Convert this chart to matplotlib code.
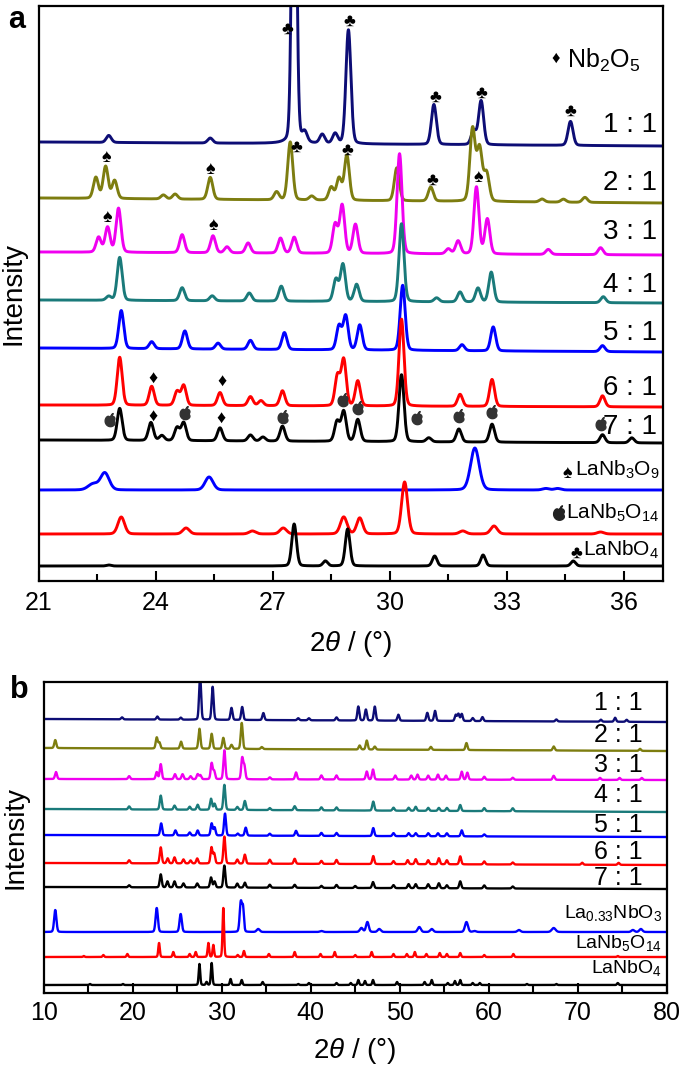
import numpy as np
import matplotlib
matplotlib.use("Agg")
import matplotlib.pyplot as plt
from matplotlib.path import Path
from matplotlib.ticker import MultipleLocator

plt.rcParams['font.family'] = ['Liberation Sans', 'DejaVu Sans']
plt.rcParams['mathtext.fontset'] = 'custom'
plt.rcParams['mathtext.rm'] = 'Liberation Sans'
plt.rcParams['mathtext.it'] = 'Liberation Sans:italic'
plt.rcParams['mathtext.bf'] = 'Liberation Sans:bold'

# ---------------- panel a data: (2theta, height[, hwhm]) per pattern ----------------
a_labels = ["1 : 1", "2 : 1", "3 : 1", "4 : 1", "5 : 1", "6 : 1", "7 : 1"]
a_colors = ["#0d0d75", "#7d7d10", "#f000f0", "#1a7a7a", "#0000ff", "#ff0000", "#000000"]
a_base = [(439, 435), (383, 378), (329, 326), (281, 278), (233, 229), (176, 174), (141, 138)]
a_label_y = [456, 398, 349, 296, 248, 193, 154]

a_11 = [(22.8, 7), (25.4, 5), (27.55, 450, 0.065), (27.82, 10), (28.27, 9), (28.6, 10),
        (28.94, 114), (31.13, 40), (32.15, 14), (32.34, 44), (34.63, 24)]
a_21 = [(22.47, 21), (22.72, 32), (22.95, 18), (24.2, 4), (24.5, 5), (25.4, 22),
        (27.1, 8), (27.45, 58), (28.0, 4), (28.5, 13), (28.7, 22), (28.9, 45),
        (30.18, 33), (31.05, 14), (32.12, 72, 0.08), (32.3, 52, 0.08), (32.48, 28, 0.08),
        (33.9, 3), (34.45, 3), (35.0, 5)]
a_31 = [(22.54, 15), (22.77, 25), (23.05, 44), (24.68, 18), (25.47, 17), (25.83, 6),
        (26.37, 10), (27.2, 15), (27.55, 16), (28.6, 29), (28.78, 48), (29.12, 29),
        (30.25, 100), (31.5, 5), (31.75, 13), (32.22, 67), (32.5, 35), (34.06, 5), (35.4, 7)]
a_41 = [(22.8, 4), (23.08, 43), (24.68, 13), (25.45, 5), (26.4, 8), (27.22, 15),
        (28.62, 22), (28.8, 37), (29.15, 17), (30.3, 78), (31.2, 4), (31.8, 10),
        (32.26, 14), (32.6, 30), (35.47, 6)]
a_51 = [(23.12, 38), (23.9, 7), (24.75, 18), (25.6, 6), (26.43, 9), (27.3, 17),
        (28.7, 24), (28.87, 34), (29.23, 25), (30.33, 65), (31.85, 6), (32.65, 24), (35.45, 6)]
a_61 = [(23.08, 48), (23.9, 19), (24.55, 14), (24.72, 20), (25.65, 13), (26.43, 9),
        (26.7, 5), (27.25, 15), (28.66, 30), (28.82, 46), (29.18, 25), (30.3, 87),
        (31.8, 12), (32.62, 27), (35.45, 11)]
a_71 = [(23.08, 32), (23.88, 18), (24.16, 5), (24.55, 13), (24.72, 18), (25.65, 13),
        (26.43, 6), (26.75, 4), (27.25, 15), (28.65, 20), (28.82, 30), (29.18, 22),
        (30.3, 67), (31.0, 4), (31.77, 13), (32.62, 18), (35.45, 8), (36.2, 5)]
a_samples = [a_11, a_21, a_31, a_41, a_51, a_61, a_71]

a_ref_names = ["LaNb$_3$O$_9$", "LaNb$_5$O$_{14}$", "LaNbO$_4$"]
a_ref_colors = ["#0000ff", "#ff0000", "#000000"]
a_ref_base = [91, 47, 15]
a_ref_label_y = [111, 68, 31]
a_ref_sym = ["spade", "apple", "club"]
ref_lanb3o9 = [(22.4, 6, 0.15), (22.7, 17, 0.13), (25.37, 13, 0.12), (32.18, 42, 0.13),
               (34.0, 1.5, 0.1), (34.3, 1.5, 0.1)]
ref_lanb5o14 = [(23.12, 17, 0.1), (24.78, 6, 0.1), (26.48, 3, 0.1), (27.27, 6, 0.1),
                (28.82, 17, 0.1), (29.23, 16, 0.09), (30.38, 52, 0.09), (31.87, 3, 0.1),
                (32.67, 8, 0.1), (35.4, 2, 0.1)]
ref_lanbo4 = [(22.8, 1), (27.55, 42), (28.35, 5), (28.92, 37), (31.15, 10),
              (32.39, 11), (34.7, 5)]
a_refs = [ref_lanb3o9, ref_lanb5o14, ref_lanbo4]

# phase symbols on panel a (2theta, y)
club_marks = [(27.37, 552), (28.96, 560), (31.17, 484), (32.35, 488), (34.63, 470),
              (27.6, 434), (28.91, 431), (31.09, 401)]
spade_marks = [(22.73, 424), (25.4, 411), (22.76, 364), (25.47, 355), (32.27, 403)]
diamond_marks = [(23.94, 203), (25.71, 200), (23.94, 165), (25.68, 163)]
apple_marks = [(22.83, 161), (24.76, 168), (27.27, 164), (28.81, 181), (29.19, 173),
               (30.7, 163), (31.78, 165), (32.63, 169), (35.4, 157)]

# ---------------- panel b data ----------------
b_base = [(274, 271), (245, 242), (214, 213), (184, 181), (158, 156), (130, 128), (106, 104)]
b_label_y = [290, 258, 228, 198, 168, 141, 115]

b_11 = [(18.8, 2), (22.77, 3), (25.4, 2), (27.57, 45), (28.98, 33), (31.1, 12), (32.3, 13),
        (34.68, 7), (38.6, 2), (39.8, 2), (42.9, 3), (45.35, 14), (46.2, 11), (47.2, 14),
        (49.85, 6), (53.1, 8), (53.97, 10), (56.3, 6), (56.6, 7), (56.97, 7), (58.2, 3),
        (59.3, 4), (67.6, 2), (72.6, 2), (74.2, 4), (75.5, 2)]
b_21 = [(11.3, 8), (22.7, 11), (23.0, 6), (25.43, 7), (27.5, 20), (28.87, 15), (30.18, 11),
        (31.1, 4), (32.25, 26), (34.5, 2), (45.5, 4), (46.3, 9), (47.2, 3), (53.5, 3),
        (57.5, 7), (67.3, 4), (77.0, 2)]
b_31 = [(11.38, 7), (19.6, 3), (22.7, 7), (23.15, 15), (24.75, 5), (25.6, 5), (26.5, 3),
        (27.3, 5), (27.6, 4), (28.87, 16), (29.15, 8), (30.3, 29), (32.3, 21), (32.55, 13),
        (35.4, 2), (38.35, 7), (41.2, 4), (42.9, 4), (46.3, 8), (47.0, 10), (49.5, 4),
        (51.3, 4), (52.0, 5), (53.2, 4), (54.3, 5), (55.2, 4), (56.97, 8), (57.6, 7),
        (59.5, 3), (62.7, 2), (67.3, 4), (72.5, 2), (74.7, 2), (77.2, 2)]
b_41 = [(19.6, 3), (23.15, 14), (24.7, 4), (26.4, 3), (27.3, 5), (28.8, 11), (29.2, 6),
        (30.3, 25), (31.75, 3), (32.6, 9), (35.4, 2), (38.2, 4), (41.2, 3), (42.9, 3),
        (47.03, 9), (49.3, 3), (51.0, 3), (51.8, 4), (53.2, 3), (54.4, 3), (55.3, 3),
        (56.8, 6), (59.5, 3), (62.7, 3)]
b_51 = [(23.2, 12), (24.8, 5), (26.4, 3), (27.3, 5), (28.87, 12), (29.2, 8), (30.37, 22),
        (31.8, 2), (32.7, 8), (35.4, 2), (38.35, 5), (41.2, 3), (42.9, 3), (47.03, 8),
        (49.3, 3), (51.0, 3), (51.8, 3), (53.2, 3), (54.3, 3), (55.3, 3), (56.97, 6), (59.5, 2)]
b_61 = [(19.6, 3), (23.15, 16), (23.93, 5), (24.7, 6), (25.7, 4), (26.5, 3), (27.25, 5),
        (28.85, 16), (29.15, 10), (30.3, 27), (31.75, 4), (32.6, 9), (35.4, 4), (38.2, 5),
        (41.2, 3), (42.9, 4), (47.03, 8), (49.3, 3), (50.9, 4), (51.8, 5), (53.2, 4),
        (54.4, 6), (55.3, 4), (56.8, 8), (59.5, 3), (62.7, 2), (70.5, 2), (74.6, 2)]
b_71 = [(19.6, 2), (23.15, 13), (23.9, 6), (24.7, 6), (25.7, 4), (27.25, 4), (28.8, 10),
        (29.2, 6), (30.3, 22), (31.75, 4), (32.6, 5), (35.4, 3), (38.2, 3), (41.2, 2),
        (42.9, 3), (45.0, 2), (47.0, 6), (49.3, 3), (51.0, 4), (51.8, 4), (53.2, 4),
        (54.4, 5), (55.3, 3), (56.8, 7), (59.5, 3), (62.7, 2)]
b_samples = [b_11, b_21, b_31, b_41, b_51, b_61, b_71]

b_ref_names = ["La$_{0.33}$NbO$_3$", "LaNb$_5$O$_{14}$", "LaNbO$_4$"]
b_ref_base = [61, 36, 8]
b_ref_label_y = [80, 50, 25]
ref_la033 = [(11.3, 22, 0.15), (22.7, 24, 0.15), (25.39, 18, 0.15), (32.15, 30, 0.15),
             (32.4, 22, 0.12), (34.1, 3, 0.2), (41.2, 1, 0.2), (45.7, 4, 0.2),
             (46.37, 10, 0.18), (47.7, 3, 0.2), (52.2, 5, 0.2), (53.6, 3, 0.2),
             (57.5, 10, 0.2), (58.4, 1, 0.2), (63.4, 2, 0.2), (67.3, 4, 0.25),
             (76.2, 2, 0.2), (77.1, 3, 0.2)]
ref_lanb5o14_b = [(14.5, 1), (16.7, 2), (19.4, 3), (22.96, 14), (24.56, 5), (26.4, 3),
                  (27.08, 5), (28.5, 14), (29.06, 12), (30.18, 49), (31.8, 2), (32.5, 6),
                  (35.3, 3), (38.2, 5), (41.1, 3), (42.7, 5), (45.0, 2), (46.85, 5),
                  (49.3, 3), (50.8, 3), (51.7, 5), (53.0, 3), (54.5, 4), (55.3, 3),
                  (56.8, 4), (59.5, 2), (62.77, 3), (74.5, 1)]
ref_lanbo4_b = [(15.2, 1), (18.9, 1), (27.5, 21), (28.3, 3), (28.87, 22), (31.0, 6),
                (32.25, 5), (34.6, 3), (38.6, 1), (39.8, 2), (42.9, 2), (44.5, 2),
                (45.35, 5), (46.1, 4), (47.0, 5), (49.7, 3), (52.8, 3), (53.6, 5),
                (55.4, 2), (56.2, 4), (56.8, 5), (58.2, 2), (59.0, 2), (64.3, 1),
                (67.6, 1), (74.5, 2)]
b_refs = [ref_la033, ref_lanb5o14_b, ref_lanbo4_b]


def pattern(x, peaks, base, hwhm):
    b0, b1 = base if isinstance(base, tuple) else (base, base)
    y = b0 + (b1 - b0) * (x - x[0]) / (x[-1] - x[0])
    for p in peaks:
        c, h = p[0], p[1]
        w = p[2] if len(p) > 2 else hwhm
        g = np.exp(-np.log(2) * ((x - c) / w) ** 2)
        l = 1.0 / (1.0 + ((x - c) / w) ** 2)
        y = y + h * (0.85 * g + 0.15 * l)
    return y


# apple-ish marker shape
t = np.linspace(0, 2 * np.pi, 80)
r = 1 - 0.35 * np.exp(-((t - np.pi / 2) / 0.35) ** 2) - 0.3 * np.exp(-(np.minimum(np.abs(t), np.abs(t - 2 * np.pi)) / 0.4) ** 2)
body = np.column_stack([np.cos(t) * r, np.sin(t) * r * 1.05 - 0.1])
leaf = np.array([[0.05, 0.75], [0.25, 1.15], [0.5, 1.3], [0.3, 0.9], [0.05, 0.75]])
apple = Path.make_compound_path(Path(body, closed=True), Path(leaf, closed=True))
sym = {"club": "\u2663", "spade": "\u2660", "diamond": "\u2666"}

fig = plt.figure(figsize=(6.85, 10.71), dpi=100)

# ---------------- panel a ----------------
ax = fig.add_axes([38.5 / 685, 1 - 581 / 1071, 624.5 / 685, 575 / 1071])
xa = np.linspace(21, 37, 4000)
for peaks, base, c in zip(a_samples, a_base, a_colors):
    ax.plot(xa, pattern(xa, peaks, base, 0.075), color=c, lw=2.1)
for peaks, base, c in zip(a_refs, a_ref_base, a_ref_colors):
    ax.plot(xa, pattern(xa, peaks, base, 0.07), color=c, lw=2.1)
for lab, yy in zip(a_labels, a_label_y):
    ax.text(36.85, yy, lab, ha='right', va='center', fontsize=20)

for x0, y0 in club_marks:
    ax.text(x0, y0, sym["club"], ha='center', va='center', fontsize=13)
for x0, y0 in spade_marks:
    ax.text(x0, y0, sym["spade"], ha='center', va='center', fontsize=13)
for x0, y0 in diamond_marks:
    ax.text(x0, y0, sym["diamond"], ha='center', va='center', fontsize=13)
ax.plot([m[0] for m in apple_marks], [m[1] for m in apple_marks], ls='none',
        marker=apple, ms=10, color='#333333')

ax.text(34.24, 523, sym["diamond"], ha='center', va='center', fontsize=12)
ax.text(34.55, 521, "Nb$_2$O$_5$", ha='left', va='center', fontsize=18)

ref_texts = [ax.text(36.9, yy, name, ha='right', va='center', fontsize=15)
             for name, yy in zip(a_ref_names, a_ref_label_y)]

ax.set_xlim(21, 37)
ax.set_ylim(0, 575)
ax.xaxis.set_major_locator(MultipleLocator(3))
ax.xaxis.set_minor_locator(MultipleLocator(1.5))
ax.tick_params(axis='x', which='both', direction='in', labelsize=18, width=1.5, pad=7)
ax.tick_params(axis='x', which='major', length=7)
ax.tick_params(axis='x', which='minor', length=5)
ax.set_yticks([])
for s_ in ax.spines.values():
    s_.set_linewidth(1.6)
ax.set_xlabel(r"2$\theta$ / (°)", fontsize=20, labelpad=10)
ax.set_ylabel("Intensity", fontsize=20)
ax.yaxis.set_label_coords(-0.02, 0.5)
fig.text(8 / 685, 1 - 20 / 1071, "a", fontsize=22, fontweight='bold', va='center')

# ---------------- panel b ----------------
bx = fig.add_axes([43.7 / 685, 1 - 993 / 1071, 623 / 685, 311 / 1071])
xb = np.linspace(10, 80, 14000)
for peaks, base, c in zip(b_samples, b_base, a_colors):
    bx.plot(xb, pattern(xb, peaks, base, 0.13), color=c, lw=1.7)
for peaks, base, c in zip(b_refs, b_ref_base, a_ref_colors):
    bx.plot(xb, pattern(xb, peaks, base, 0.1), color=c, lw=1.7)
for lab, yy in zip(a_labels, b_label_y):
    bx.text(77.3, yy, lab, ha='right', va='center', fontsize=18)
for name, yy in zip(b_ref_names, b_ref_label_y):
    bx.text(79.5, yy, name, ha='right', va='center', fontsize=14)

bx.set_xlim(10, 80)
bx.set_ylim(0, 311)
bx.xaxis.set_major_locator(MultipleLocator(10))
bx.xaxis.set_minor_locator(MultipleLocator(5))
bx.tick_params(axis='x', which='both', direction='in', labelsize=18, width=1.5, pad=6)
bx.tick_params(axis='x', which='major', length=7)
bx.tick_params(axis='x', which='minor', length=5)
bx.set_yticks([])
for s_ in bx.spines.values():
    s_.set_linewidth(1.6)
bx.set_xlabel(r"2$\theta$ / (°)", fontsize=20, labelpad=8)
bx.set_ylabel("Intensity", fontsize=20)
bx.yaxis.set_label_coords(-0.024, 0.5)
fig.text(10 / 685, 1 - 690 / 1071, "b", fontsize=22, fontweight='bold', va='center')

# phase symbols just left of the reference names in panel a
fig.canvas.draw()
rend = fig.canvas.get_renderer()
inv = ax.transData.inverted()
for txt, s, yy in zip(ref_texts, a_ref_sym, a_ref_label_y):
    bb = txt.get_window_extent(renderer=rend)
    xs, _ = inv.transform((bb.x0 - 7, 0))
    if s == "apple":
        ax.plot([xs], [yy], ls='none', marker=apple, ms=11, color='#222222')
    else:
        ax.text(xs, yy - 3, sym[s], ha='center', va='center', fontsize=13)

fig.savefig("out.png", dpi=100)
